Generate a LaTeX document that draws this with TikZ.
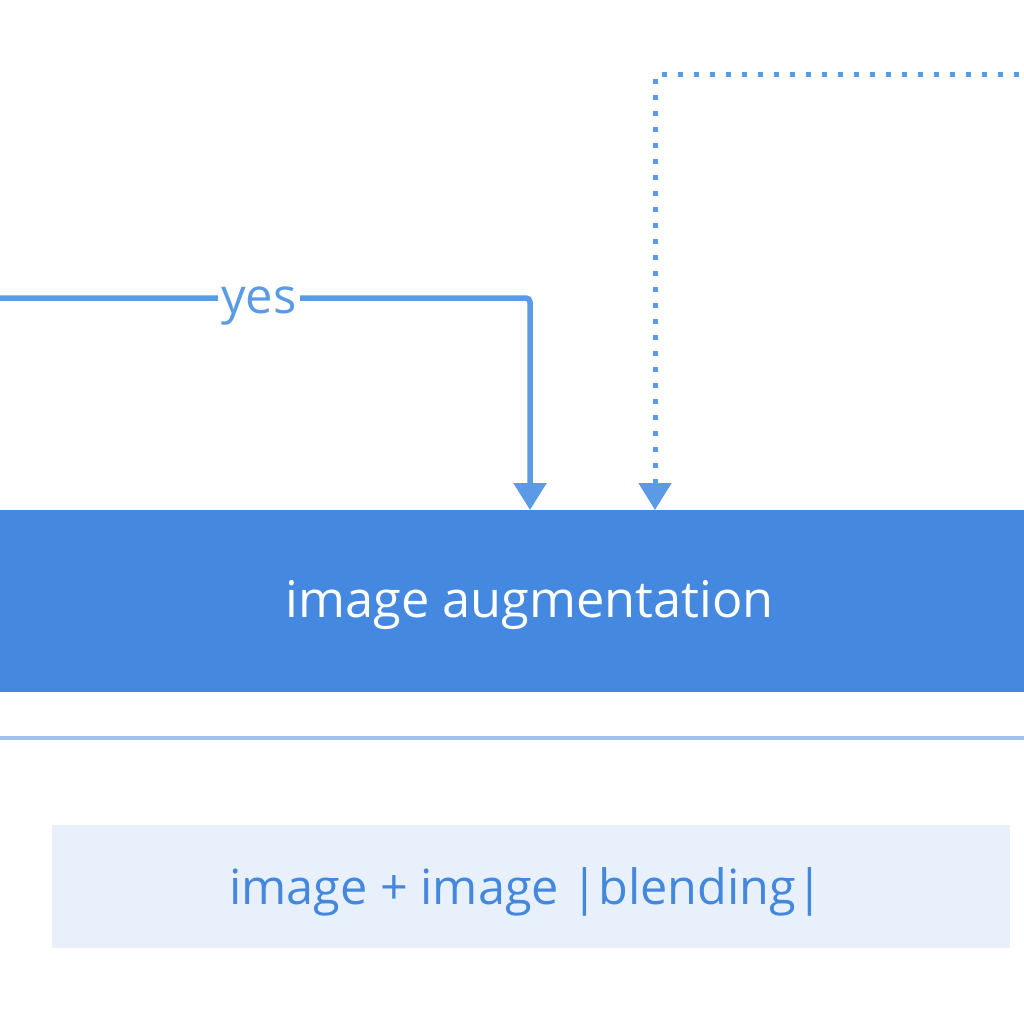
\documentclass[tikz,border=0pt]{standalone}
\usepackage{fontspec}
\setmainfont{Open Sans}
\usetikzlibrary{arrows.meta}
\definecolor{boxblue}{HTML}{4489DF}
\definecolor{linkblue}{HTML}{5B9BE5}
\definecolor{paleblue}{HTML}{E8F1FB}
\definecolor{rule}{HTML}{A0C3EE}
\definecolor{textblue}{HTML}{4488DD}
\tikzset{
  mainbox/.style={fill=boxblue, draw=none, inner sep=0pt},
  subbox/.style={fill=paleblue, draw=none, inner sep=0pt},
  link/.style={draw=linkblue, line width=5.5pt, -{Triangle[width=32pt,length=27pt]}},
  dotlink/.style={draw=linkblue, line width=5pt, dash pattern=on 5pt off 11pt, -{Triangle[width=32pt,length=27pt]}},
  lbl/.style={fill=white, inner sep=3pt, text=linkblue, font=\fontsize{49}{56}\selectfont}
}
\begin{document}
\begin{tikzpicture}[x=1pt,y=-1pt]
\useasboundingbox (0,0) rectangle (1024,1024);
\fill[white] (0,0) rectangle (1024,1024);
% main box
\node[mainbox, minimum width=1030pt, minimum height=182pt, anchor=north west] (aug) at (-3,510) {};
\node[text=white, font=\fontsize{50.5}{56}\selectfont, inner sep=0pt] (augtxt) at (530,605) {image augmentation};
% rule
\draw[rule, line width=4pt] (-5,738) -- (1030,738);
% bottom box
\node[subbox, minimum width=958pt, minimum height=123pt, anchor=north west] (blend) at (52,825) {};
\node[text=textblue, font=\fontsize{48.6}{56}\selectfont, inner sep=0pt] (blendtxt) at (526,892) {image + image |blending|};
% connectors
\coordinate (yesstart) at (-10,298);
\coordinate (dotstart) at (1035,75);
\draw[link, rounded corners=4pt] (yesstart) -- (530,298) -- (530,510);
\node[lbl] (yes) at (259,306) {yes};
\draw[dotlink] (dotstart) -- (655,75) -- (655,510);
\end{tikzpicture}
\end{document}
